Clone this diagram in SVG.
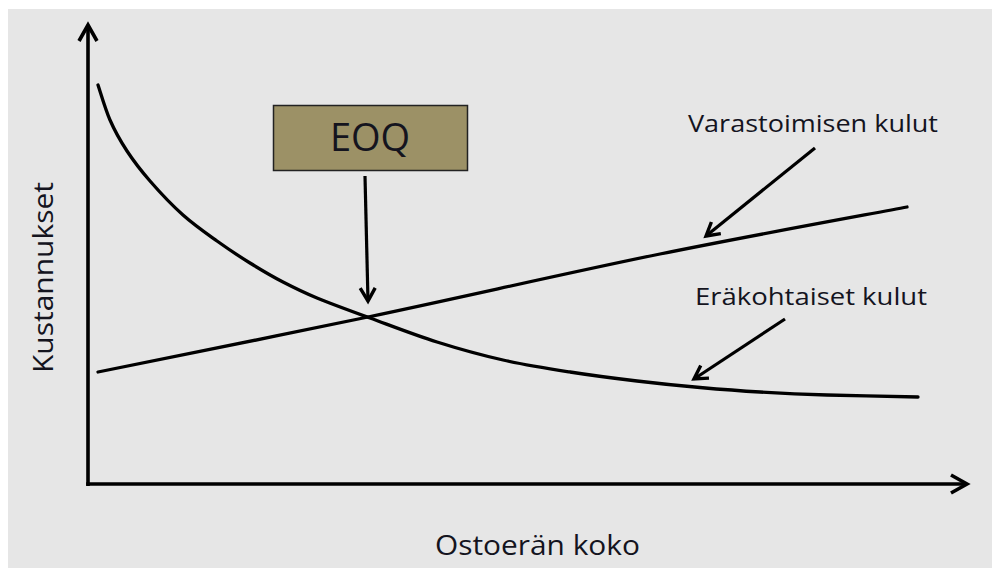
<svg xmlns="http://www.w3.org/2000/svg" width="992" height="568" viewBox="0 0 992 568">
  <style>
    .lbl { font-family: "Open Sans", "Liberation Sans", sans-serif; fill: #14141e; }
    .curve { fill: none; stroke: #000; stroke-width: 3.3; stroke-linejoin: round; stroke-linecap: round; }
    .axis { fill: none; stroke: #000; stroke-width: 3.6; }
    .ptr { fill: none; stroke: #000; stroke-width: 3.2; }
  </style>
  <defs>
    <marker id="axhead" markerUnits="userSpaceOnUse" viewBox="-20 -12 24 24" refX="0" refY="0" markerWidth="24" markerHeight="24" orient="auto" overflow="visible">
      <path d="M-16,-9 L0,0 L-16,9" fill="none" stroke="#000" stroke-width="3.6" stroke-linejoin="miter"/>
    </marker>
    <marker id="ptrhead" markerUnits="userSpaceOnUse" viewBox="-16 -10 20 20" refX="0" refY="0" markerWidth="20" markerHeight="20" orient="auto" overflow="visible">
      <path d="M-13,-7.5 L0,0 L-13,7.5" fill="none" stroke="#000" stroke-width="3.4" stroke-linejoin="miter"/>
    </marker>
  </defs>
  <rect x="0" y="0" width="992" height="568" fill="#ffffff"/>
  <rect x="8" y="9" width="984" height="559" fill="#e6e6e6"/>

  <g id="axes">
    <path class="axis" d="M88,486 L88,25" marker-end="url(#axhead)"/>
    <path class="axis" d="M86.2,484 L967,484" marker-end="url(#axhead)"/>
  </g>

  <g id="curves">
    <path id="holding-cost" class="curve" d="M98,372 C143,362.8 274.3,336.7 368,317 C461.7,297.3 570.2,272.3 660,254 C749.8,235.7 865.8,214.8 907,207"/>
    <path id="order-cost" class="curve" d="M98,85 C100,90.8 105.2,109 110,120 C114.8,131 120.3,140.8 127,151 C133.7,161.2 140.7,170.3 150,181 C159.3,191.7 171.8,205 183,215 C194.2,225 205.8,233 217,241 C228.2,249 239,256.2 250,263 C261,269.8 271.8,276.2 283,282 C294.2,287.8 302.5,292 317,298 C331.5,304 350,310.7 370,318 C390,325.3 414.8,335 437,342 C459.2,349 480.8,355 503,360 C525.2,365 547.7,368.5 570,372 C592.3,375.5 615.3,378.4 637,381 C658.7,383.6 679.5,385.7 700,387.5 C720.5,389.3 738.8,390.75 760,392 C781.2,393.25 800.7,394.2 827,395 C853.3,395.8 902.8,396.7 918,397"/>
  </g>

  <g id="connectors">
    <path class="ptr" d="M365,176 L368,301" marker-end="url(#ptrhead)"/>
    <path class="ptr" d="M815,148 L706,236" marker-end="url(#ptrhead)"/>
    <path class="ptr" d="M785,319 L694,379" marker-end="url(#ptrhead)"/>
  </g>

  <g id="eoq">
    <rect x="273.5" y="105.5" width="194" height="65" fill="#9c9166" stroke="#222" stroke-width="1.5"/>
    <text class="lbl" x="370" y="151" font-size="38" text-anchor="middle">EOQ</text>
  </g>

  <g id="label-holding">
    <text class="lbl" x="688" y="132" font-size="23" textLength="250" lengthAdjust="spacingAndGlyphs">Varastoimisen kulut</text>
  </g>
  <g id="label-order">
    <text class="lbl" x="695" y="305" font-size="23" textLength="232" lengthAdjust="spacingAndGlyphs">Eräkohtaiset kulut</text>
  </g>
  <g id="label-x">
    <text class="lbl" x="435" y="555" font-size="27" textLength="205" lengthAdjust="spacingAndGlyphs">Ostoerän koko</text>
  </g>
  <g id="label-y">
    <text class="lbl" transform="translate(53,373) rotate(-90)" x="0" y="0" font-size="27" textLength="191" lengthAdjust="spacingAndGlyphs">Kustannukset</text>
  </g>
</svg>
